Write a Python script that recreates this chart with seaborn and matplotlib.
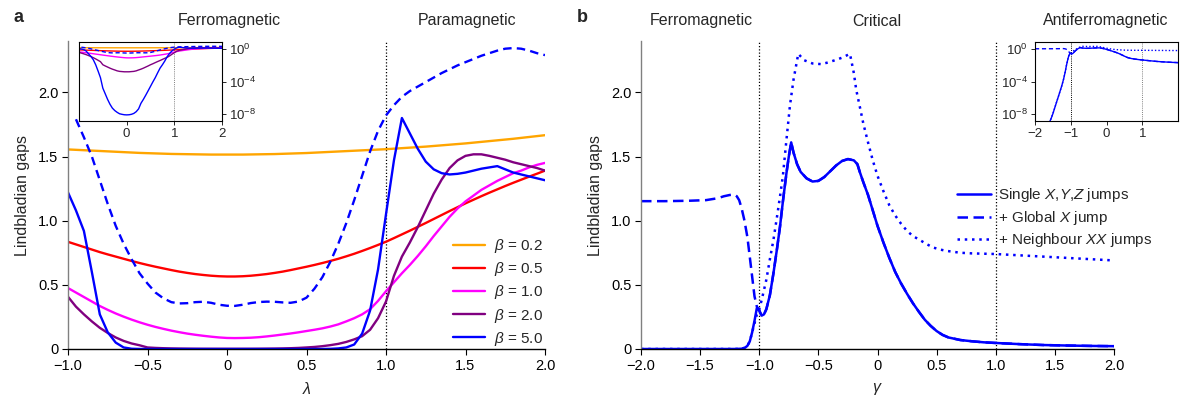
import numpy as np
import matplotlib
matplotlib.use("Agg")
import matplotlib.pyplot as plt
import seaborn as sns

# ---------------- Panel a data (lambda grid, step 0.05) ----------------
lam = np.round(np.linspace(-1.0, 2.0, 61), 2)

gap_b02 = [1.555, 1.552, 1.549, 1.546, 1.543, 1.540, 1.537, 1.534, 1.531, 1.528,
           1.526, 1.524, 1.522, 1.520, 1.519, 1.518, 1.517, 1.516, 1.515, 1.515,
           1.515, 1.515, 1.515, 1.516, 1.517, 1.518, 1.519, 1.521, 1.523, 1.525,
           1.527, 1.530, 1.533, 1.536, 1.539, 1.542, 1.545, 1.548, 1.551, 1.554,
           1.557, 1.561, 1.565, 1.569, 1.573, 1.577, 1.582, 1.587, 1.592, 1.597,
           1.602, 1.608, 1.614, 1.620, 1.626, 1.632, 1.638, 1.645, 1.652, 1.659,
           1.666]

gap_b05 = [0.835, 0.815, 0.795, 0.775, 0.755, 0.737, 0.720, 0.703, 0.686, 0.670,
           0.655, 0.641, 0.628, 0.615, 0.603, 0.593, 0.584, 0.577, 0.571, 0.567,
           0.565, 0.565, 0.567, 0.571, 0.577, 0.584, 0.593, 0.603, 0.615, 0.628,
           0.641, 0.655, 0.670, 0.686, 0.703, 0.722, 0.742, 0.764, 0.787, 0.811,
           0.836, 0.864, 0.893, 0.922, 0.952, 0.982, 1.013, 1.044, 1.075, 1.105,
           1.135, 1.163, 1.191, 1.218, 1.244, 1.270, 1.295, 1.319, 1.343, 1.366,
           1.390]

gap_b10 = [0.475, 0.440, 0.405, 0.370, 0.335, 0.305, 0.277, 0.252, 0.229, 0.208,
           0.189, 0.172, 0.157, 0.143, 0.131, 0.120, 0.111, 0.103, 0.096, 0.090,
           0.086, 0.085, 0.086, 0.088, 0.092, 0.098, 0.105, 0.113, 0.121, 0.130,
           0.140, 0.150, 0.161, 0.175, 0.192, 0.215, 0.240, 0.270, 0.310, 0.375,
           0.450, 0.520, 0.590, 0.655, 0.725, 0.800, 0.880, 0.955, 1.030, 1.095,
           1.150, 1.195, 1.240, 1.275, 1.310, 1.340, 1.370, 1.390, 1.415, 1.435,
           1.450]

gap_b20 = [0.407, 0.330, 0.270, 0.215, 0.165, 0.125, 0.090, 0.063, 0.043, 0.029,
           0.012, 0.0085, 0.0062, 0.0045, 0.0034, 0.0027, 0.0021, 0.0018, 0.0017, 0.0016,
           0.0016, 0.0016, 0.0017, 0.0018, 0.0021, 0.0027, 0.0034, 0.0045, 0.0062, 0.0085,
           0.012, 0.016, 0.022, 0.030, 0.040, 0.055, 0.075, 0.100, 0.150, 0.240,
           0.370, 0.570, 0.720, 0.830, 0.950, 1.080, 1.210, 1.320, 1.410, 1.470,
           1.505, 1.517, 1.517, 1.505, 1.490, 1.475, 1.455, 1.440, 1.425, 1.410,
           1.390]

gap_b50 = [1.22, 1.08, 0.92, 0.60, 0.27, 0.13, 0.05, 0.012, 2e-3, 3e-4,
           1.5e-5, 3e-6, 6e-7, 1.5e-7, 5e-8, 2.5e-8, 1.5e-8, 1e-8, 8.5e-9, 7.5e-9,
           7.2e-9, 7.5e-9, 8.5e-9, 1.1e-8, 1.8e-8, 4e-8, 2e-7, 6e-7, 2e-6, 7e-6,
           2.5e-5, 9e-5, 3e-4, 1.2e-3, 4.5e-3, 0.012, 0.035, 0.12, 0.30, 0.62,
           1.05, 1.47, 1.80, 1.68, 1.56, 1.46, 1.40, 1.37, 1.36, 1.365,
           1.375, 1.39, 1.405, 1.415, 1.425, 1.40, 1.375, 1.36, 1.345, 1.33,
           1.315]

# dashed curve (beta = 5 with extra jump); it starts at lambda = -0.95
gap_b50_global = [1.79, 1.65, 1.50, 1.315, 1.13, 0.96, 0.82, 0.70, 0.59,
                  0.51, 0.44, 0.395, 0.365, 0.355, 0.357, 0.365, 0.368, 0.360, 0.345,
                  0.337, 0.336, 0.345, 0.358, 0.366, 0.369, 0.368, 0.363, 0.360, 0.370,
                  0.400, 0.470, 0.560, 0.680, 0.820, 0.980, 1.160, 1.350, 1.540, 1.700,
                  1.820, 1.900, 1.965, 2.010, 2.045, 2.080, 2.115, 2.150, 2.180, 2.210,
                  2.235, 2.260, 2.285, 2.305, 2.325, 2.340, 2.345, 2.340, 2.325, 2.305,
                  2.290]
lam_global = lam[1:]

beta_labels = ["0.2", "0.5", "1.0", "2.0", "5.0"]
beta_colors = ["#FFA500", "#FF0000", "#FF00FF", "#800080", "#0000FF"]

# ---------------- Panel b data ----------------
gam_single = [-2.00, -1.90, -1.80, -1.70, -1.60, -1.55, -1.50, -1.45, -1.40, -1.35,
              -1.30, -1.25, -1.20, -1.15, -1.12, -1.10, -1.08, -1.06, -1.04, -1.02,
              -1.00, -0.98, -0.96, -0.94, -0.91, -0.88, -0.85, -0.825, -0.80, -0.77,
              -0.75, -0.73, -0.71, -0.68, -0.65, -0.60, -0.55, -0.50, -0.45, -0.40,
              -0.35, -0.30, -0.25, -0.20, -0.17, -0.15, -0.12, -0.08, -0.04, 0.00,
              0.05, 0.10, 0.15, 0.20, 0.25, 0.30, 0.35, 0.40, 0.45, 0.50,
              0.55, 0.60, 0.70, 0.80, 0.90, 1.00, 1.20, 1.40, 1.60, 1.80, 2.00]
gap_single = [3e-14, 4e-13, 6e-12, 8e-11, 8e-10, 2.5e-9, 1e-8, 5e-8, 2.5e-7, 1.2e-6,
              6e-6, 3e-5, 2e-4, 2e-3, 0.01, 0.025, 0.06, 0.13, 0.22, 0.32,
              0.30, 0.26, 0.27, 0.31, 0.42, 0.59, 0.78, 0.95, 1.15, 1.37,
              1.50, 1.61, 1.53, 1.44, 1.38, 1.33, 1.305, 1.31, 1.34, 1.385,
              1.43, 1.465, 1.48, 1.47, 1.44, 1.38, 1.30, 1.20, 1.08, 0.96,
              0.83, 0.71, 0.60, 0.51, 0.43, 0.356, 0.29, 0.228, 0.18, 0.14,
              0.11, 0.09, 0.07, 0.06, 0.052, 0.047, 0.038, 0.031, 0.027, 0.024, 0.022]

gam_global = [-2.00, -1.80, -1.60, -1.45, -1.35, -1.30, -1.25, -1.21, -1.19, -1.17,
              -1.15, -1.125, -1.10, -1.07, -1.04, -1.02]
gap_global = [1.152, 1.152, 1.155, 1.16, 1.175, 1.19, 1.20, 1.204, 1.19, 1.16,
              1.10, 1.00, 0.87, 0.64, 0.41, 0.33]

gam_neigh = [-2.00, -1.90, -1.80, -1.70, -1.60, -1.55, -1.50, -1.45, -1.40, -1.35,
             -1.30, -1.25, -1.20, -1.15, -1.12, -1.10, -1.08, -1.06, -1.04, -1.02,
             -1.00, -0.98, -0.96, -0.94, -0.91, -0.88, -0.85, -0.825, -0.80, -0.77,
             -0.74, -0.71, -0.67, -0.62, -0.55, -0.48, -0.43, -0.36, -0.30, -0.233,
             -0.20, -0.18, -0.15, -0.12, -0.08, -0.04, 0.00, 0.05, 0.10, 0.15,
             0.20, 0.25, 0.30, 0.36, 0.42, 0.47, 0.53, 0.58, 0.70, 0.80,
             1.00, 1.20, 1.40, 1.60, 1.80, 2.00]
gap_neigh = [3e-14, 4e-13, 6e-12, 8e-11, 8e-10, 2.5e-9, 1e-8, 5e-8, 2.5e-7, 1.2e-6,
             6e-6, 3e-5, 2e-4, 2e-3, 0.01, 0.025, 0.06, 0.13, 0.20, 0.27,
             0.31, 0.38, 0.46, 0.54, 0.70, 0.85, 1.03, 1.185, 1.35, 1.63,
             1.90, 2.10, 2.30, 2.25, 2.225, 2.22, 2.23, 2.25, 2.27, 2.30,
             2.15, 2.02, 1.89, 1.757, 1.61, 1.47, 1.35, 1.23, 1.12, 1.04,
             0.975, 0.92, 0.88, 0.848, 0.815, 0.791, 0.775, 0.765, 0.75, 0.745,
             0.74, 0.73, 0.72, 0.71, 0.70, 0.69]

blue = "#0000FF"

# ---------------- Style ----------------
sns.set_theme(style="ticks")
plt.rcParams['font.family'] = ['Liberation Sans', 'DejaVu Sans']
plt.rcParams['mathtext.fontset'] = 'custom'
plt.rcParams['mathtext.rm'] = 'Liberation Sans'
plt.rcParams['mathtext.it'] = 'Liberation Sans:italic'
plt.rcParams['mathtext.bf'] = 'Liberation Sans:bold'
plt.rcParams['axes.unicode_minus'] = True

W, H = 1186, 404
fig = plt.figure(figsize=(W / 100, H / 100), dpi=100)


def px_axes(l, t, r, b):
    return fig.add_axes([l / W, 1 - b / H, (r - l) / W, (b - t) / H])


TICK_FS = 10.5
LAB_FS = 11.5

def style_main(ax):
    sns.despine(ax=ax)
    ax.spines['left'].set_color('#808080')
    ax.spines['left'].set_linewidth(1.0)
    ax.spines['bottom'].set_color('black')
    ax.spines['bottom'].set_linewidth(1.0)
    ax.tick_params(axis='both', direction='out', length=4, width=0.8,
                   labelsize=TICK_FS, colors='black', pad=3)
    ax.set_ylim(0, 2.4)
    ax.set_yticks([0, 0.5, 1.0, 1.5, 2.0])
    ax.set_yticklabels(["0", "0.5", "1.0", "1.5", "2.0"])
    ax.set_ylabel("Lindbladian gaps", fontsize=LAB_FS, labelpad=6)
    ax.grid(False)


def style_inset(ax):
    ax.set_yscale('log')
    ax.set_ylim(10 ** -8.9, 10 ** 0.9)
    for s in ax.spines.values():
        s.set_visible(True)
        s.set_color('black')
        s.set_linewidth(0.8)
    ax.set_yticks([1e0, 1e-4, 1e-8])
    ax.set_yticklabels([r"$10^{0}$", r"$10^{-4}$", r"$10^{-8}$"])
    ax.yaxis.set_minor_locator(matplotlib.ticker.NullLocator())
    ax.tick_params(axis='both', direction='out', length=3, width=0.7,
                   labelsize=9.5, pad=2)
    ax.set_facecolor('white')
    ax.grid(False)
    ax.set_xlabel("")
    ax.set_ylabel("")


# ---------------- Panel a ----------------
axA = px_axes(68, 41, 545, 349)
series_a = [gap_b02, gap_b05, gap_b10, gap_b20, gap_b50]
for vals, lab, col in zip(series_a, beta_labels, beta_colors):
    sns.lineplot(x=lam, y=vals, ax=axA, color=col, lw=1.7,
                 label=r"$\beta$ = " + lab, estimator=None, sort=False)
sns.lineplot(x=lam_global, y=gap_b50_global, ax=axA, color=blue, lw=1.7,
             estimator=None, sort=False)
axA.lines[-1].set_dashes((3.6, 2.2))
axA.axvline(1.0, color='black', lw=0.9, ls=(0, (1, 1.6)), zorder=1)
axA.set_xlim(-1.0, 2.0)
axA.set_xticks([-1.0, -0.5, 0, 0.5, 1.0, 1.5, 2.0])
axA.set_xticklabels(["\u22121.0", "\u22120.5", "0", "0.5", "1.0", "1.5", "2.0"])
axA.set_xlabel(r"$\lambda$", fontsize=LAB_FS, labelpad=6)
style_main(axA)
axA.legend(loc='lower left', bbox_to_anchor=(0.785, -0.03), frameon=False,
           fontsize=11, handlelength=2.1, handletextpad=0.55, labelspacing=0.33,
           borderaxespad=0.3)

# inset a
insA = px_axes(79, 42, 222, 121)
for vals, col in zip(series_a, beta_colors):
    sns.lineplot(x=lam, y=vals, ax=insA, color=col, lw=1.0, estimator=None, sort=False)
sns.lineplot(x=lam_global, y=gap_b50_global, ax=insA, color=blue, lw=1.0,
             estimator=None, sort=False)
insA.lines[-1].set_dashes((3, 2))
insA.axvline(1.0, color='#808080', lw=0.7, ls=(0, (1, 1.2)), zorder=1)
insA.set_xlim(-1.0, 2.0)
insA.set_xticks([0, 1, 2])
insA.set_xticklabels(["0", "1", "2"])
style_inset(insA)
insA.yaxis.tick_right()

# ---------------- Panel b ----------------
axB = px_axes(641, 41, 1114, 349)
gam_global_full = list(gam_global) + [g for g in gam_single if g > -1.02]
gap_global_full = list(gap_global) + [v for g, v in zip(gam_single, gap_single) if g > -1.02]

sns.lineplot(x=gam_single, y=gap_single, ax=axB, color=blue, lw=1.8,
             label=r"Single $X$,$Y$,$Z$ jumps", estimator=None, sort=False)
sns.lineplot(x=gam_global_full, y=gap_global_full, ax=axB, color=blue, lw=1.8,
             label=r"+ Global $X$ jump", estimator=None, sort=False)
sns.lineplot(x=gam_neigh, y=gap_neigh, ax=axB, color=blue, lw=1.8,
             label=r"+ Neighbour $XX$ jumps", estimator=None, sort=False)
axB.lines[1].set_dashes((4.2, 2.2))
axB.lines[2].set_dashes((1.0, 1.9))
for xv in (-1.0, 1.0):
    axB.axvline(xv, color='black', lw=0.9, ls=(0, (1, 1.6)), zorder=1)
axB.set_xlim(-2.0, 2.0)
axB.set_xticks([-2.0, -1.5, -1.0, -0.5, 0, 0.5, 1.0, 1.5, 2.0])
axB.set_xticklabels(["\u22122.0", "\u22121.5", "\u22121.0", "\u22120.5", "0",
                     "0.5", "1.0", "1.5", "2.0"])
axB.set_xlabel(r"$\gamma$", fontsize=LAB_FS, labelpad=6)
style_main(axB)
leg = axB.legend(loc='upper left', bbox_to_anchor=(0.655, 0.548), frameon=False,
                 fontsize=11, handlelength=2.2, handletextpad=0.5, labelspacing=0.3,
                 borderaxespad=0.0)
for h in leg.get_lines():
    h.set_linewidth(1.8)

# inset b
insB = px_axes(1035, 42, 1178, 121)
sns.lineplot(x=gam_single, y=gap_single, ax=insB, color=blue, lw=1.0,
             estimator=None, sort=False)
sns.lineplot(x=gam_global_full, y=gap_global_full, ax=insB, color=blue, lw=1.0,
             estimator=None, sort=False)
sns.lineplot(x=gam_neigh, y=gap_neigh, ax=insB, color=blue, lw=1.0,
             estimator=None, sort=False)
insB.lines[1].set_dashes((3, 2))
insB.lines[2].set_dashes((1, 1.5))
insB.axvline(-1.0, color='black', lw=0.7, ls=(0, (1, 1.2)), zorder=1)
insB.axvline(1.0, color='#808080', lw=0.7, ls=(0, (1, 1.2)), zorder=1)
insB.set_xlim(-2.0, 2.0)
insB.set_xticks([-2, -1, 0, 1])
insB.set_xticklabels(["\u22122", "\u22121", "0", "1"])
style_inset(insB)

# ---------------- Texts ----------------
def fig_text(xpx, ypx, s, **kw):
    fig.text(xpx / W, 1 - ypx / H, s, **kw)

fig_text(14, 18, "a", fontsize=13, fontweight='bold', ha='left', va='center')
fig_text(577, 18, "b", fontsize=13, fontweight='bold', ha='left', va='center')
fig_text(229, 21, "Ferromagnetic", fontsize=LAB_FS, ha='center', va='center')
fig_text(467, 21, "Paramagnetic", fontsize=LAB_FS, ha='center', va='center')
fig_text(701, 21, "Ferromagnetic", fontsize=LAB_FS, ha='center', va='center')
fig_text(877, 21, "Critical", fontsize=LAB_FS, ha='center', va='center')
fig_text(1106, 21, "Antiferromagnetic", fontsize=LAB_FS, ha='center', va='center')

fig.savefig("out.png", dpi=100)
